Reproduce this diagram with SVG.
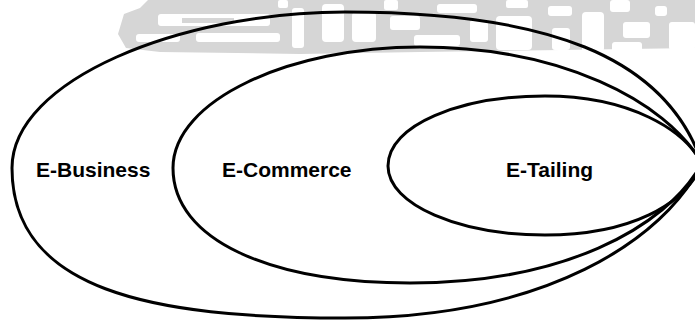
<svg xmlns="http://www.w3.org/2000/svg" width="695" height="321" viewBox="0 0 695 321">
  <style>
    .set { fill: none; stroke: #000; stroke-width: 3; stroke-linejoin: round; }
    .label { font-family: "Liberation Sans", Arial, sans-serif; font-size: 21px; font-weight: bold; fill: #000; }
    .band { fill: #d6d6d6; }
    .gap { fill: #fff; }
  </style>
  <rect width="695" height="321" fill="#fff"/>

  <!-- faint background emblem: a grey band with open counters -->
  <g id="watermark">
    <path class="band" d="M148,0 L695,0 L695,48 L560,50 L420,52 L300,54 L160,52 L126,48 L118,34 L124,14 L140,8 Z"/>
    <rect class="gap" x="158" y="14" width="112" height="12" rx="3"/>
    <rect class="band" x="182" y="18" width="52" height="5"/>
    <rect class="gap" x="136" y="34" width="44" height="8" rx="3"/>
    <rect class="gap" x="196" y="33" width="84" height="9" rx="3"/>
    <rect class="gap" x="278" y="0" width="10" height="8" rx="2"/>
    <rect class="gap" x="292" y="8" width="12" height="40" rx="3"/>
    <rect class="gap" x="322" y="4" width="22" height="38" rx="4"/>
    <rect class="gap" x="352" y="12" width="24" height="30" rx="4"/>
    <rect class="gap" x="384" y="0" width="14" height="10" rx="2"/>
    <rect class="gap" x="390" y="16" width="30" height="14" rx="3"/>
    <rect class="gap" x="414" y="35" width="46" height="11" rx="3"/>
    <rect class="gap" x="437" y="4" width="40" height="9" rx="3"/>
    <rect class="gap" x="470" y="20" width="18" height="22" rx="3"/>
    <rect class="gap" x="496" y="16" width="36" height="34" rx="4"/>
    <rect class="gap" x="506" y="0" width="22" height="8" rx="2"/>
    <rect class="gap" x="548" y="6" width="24" height="10" rx="3"/>
    <rect class="gap" x="552" y="28" width="18" height="22" rx="3"/>
    <rect class="gap" x="582" y="12" width="22" height="40" rx="4"/>
    <rect class="gap" x="610" y="0" width="20" height="12" rx="3"/>
    <rect class="gap" x="623" y="22" width="27" height="16" rx="3"/>
    <rect class="gap" x="612" y="42" width="30" height="10" rx="3"/>
    <rect class="gap" x="669" y="22" width="26" height="28" rx="3"/>
    <rect class="gap" x="655" y="6" width="12" height="10" rx="3"/>
  </g>

  <!-- nested sets, all meeting at the right-hand tip -->
  <g id="e-business">
    <path class="set" d="M12,168 C12,80 180,12 345,12 C545,12 665,55 702,163 C665,240 545,318 345,318 C150,318 12,290 12,168 Z"/>
    <text class="label" x="36" y="177">E-Business</text>
  </g>
  <g id="e-commerce">
    <path class="set" d="M173,168 C173,100 290,47 420,47 C560,47 665,100 702,163 C665,230 560,283 410,283 C270,283 173,240 173,168 Z"/>
    <text class="label" x="222" y="177">E-Commerce</text>
  </g>
  <g id="e-tailing">
    <path class="set" d="M388,166 C388,125 460,96 545,96 C630,96 685,130 702,164 C685,205 630,235 545,235 C460,235 388,205 388,166 Z"/>
    <text class="label" x="506" y="177">E-Tailing</text>
  </g>
</svg>
